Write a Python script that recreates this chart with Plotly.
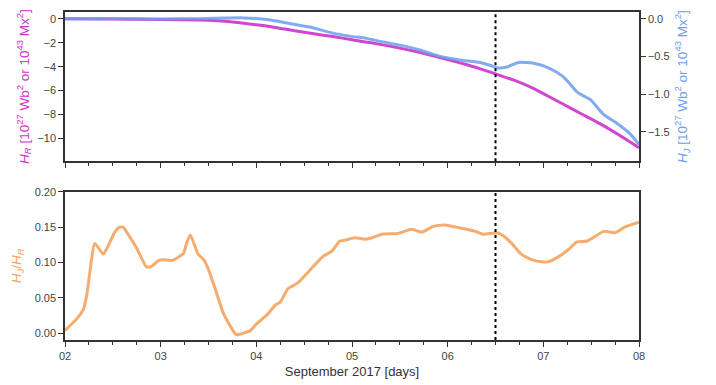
import plotly.graph_objects as go

# ---------------- data ----------------
hr_days = [2.0, 2.5, 3.0, 3.4, 3.6, 3.8, 4.0, 4.2, 4.4, 4.6, 4.8, 5.0, 5.2, 5.5, 5.7, 5.85,
           6.0, 6.2, 6.35, 6.5, 6.7, 6.85, 7.0, 7.2, 7.4, 7.6, 7.8, 8.0]
hr_vals = [0.0, -0.02, -0.05, -0.1, -0.17, -0.3, -0.5, -0.72, -1.0, -1.25, -1.48, -1.75, -2.0,
           -2.45, -2.8, -3.1, -3.4, -3.84, -4.2, -4.6, -5.15, -5.65, -6.25, -7.1, -7.95, -8.8,
           -9.75, -10.77]

hj_days = [2.0, 2.5, 3.0, 3.4, 3.7, 3.86, 4.0, 4.11, 4.21, 4.46, 4.56, 4.8, 4.98, 5.15, 5.3,
           5.5, 5.71, 5.92, 6.13, 6.34, 6.45, 6.51, 6.62, 6.74, 6.9, 7.07, 7.21, 7.36, 7.49,
           7.63, 7.75, 7.91, 8.0]
hj_vals = [0.0, 0.0, -0.002, 0.002, 0.01, 0.012, 0.005, -0.009, -0.03, -0.088, -0.11, -0.19,
           -0.23, -0.26, -0.30, -0.35, -0.415, -0.50, -0.547, -0.58, -0.62, -0.65, -0.64,
           -0.58, -0.59, -0.66, -0.77, -0.98, -1.07, -1.27, -1.37, -1.53, -1.67]

ratio_days = [2.0, 2.12, 2.19, 2.23, 2.27, 2.31, 2.40, 2.45, 2.52, 2.57, 2.61, 2.64, 2.75, 2.85,
              2.90, 2.98, 3.03, 3.12, 3.20, 3.24, 3.27, 3.31, 3.39, 3.45, 3.50, 3.57, 3.65,
              3.72, 3.78, 3.81, 3.88, 3.93, 4.00, 4.11, 4.20, 4.25, 4.33, 4.38, 4.44, 4.60,
              4.70, 4.79, 4.87, 4.94, 5.03, 5.14, 5.21, 5.31, 5.48, 5.62, 5.73, 5.85, 5.97,
              6.09, 6.20, 6.29, 6.37, 6.51, 6.58, 6.67, 6.76, 6.83, 6.93, 7.05, 7.17, 7.26,
              7.35, 7.45, 7.52, 7.63, 7.75, 7.85, 8.0]
ratio_vals = [0.004, 0.020, 0.033, 0.056, 0.097, 0.127, 0.112, 0.123, 0.143, 0.150, 0.150,
              0.144, 0.120, 0.094, 0.094, 0.103, 0.104, 0.103, 0.109, 0.113, 0.127, 0.139,
              0.112, 0.104, 0.090, 0.063, 0.030, 0.012, -0.001, -0.002, 0.001, 0.003, 0.013,
              0.026, 0.040, 0.044, 0.063, 0.067, 0.072, 0.095, 0.109, 0.116, 0.130, 0.132,
              0.135, 0.133, 0.135, 0.140, 0.141, 0.147, 0.143, 0.151, 0.153, 0.150, 0.147,
              0.144, 0.140, 0.142, 0.138, 0.127, 0.113, 0.107, 0.102, 0.101, 0.109, 0.118,
              0.129, 0.130, 0.135, 0.144, 0.142, 0.150, 0.157]

day_ticks = [2, 3, 4, 5, 6, 7, 8]
day_labels = ["02", "03", "04", "05", "06", "07", "08"]
event_day = 6.5

# ---------------- style ----------------
MAG = "#CC33CC"
BLUE = "#6E9EEC"
ORANGE = "#F4A460"
AX = "#333333"
FONT = "Liberation Sans"

fig = go.Figure()
fig.add_trace(go.Scatter(x=hj_days, y=hj_vals, mode="lines", line=dict(color=BLUE, width=3, shape="spline", smoothing=0.6),
                         opacity=0.85, xaxis="x", yaxis="y2", showlegend=False))
fig.add_trace(go.Scatter(x=hr_days, y=hr_vals, mode="lines", line=dict(color=MAG, width=3, shape="spline", smoothing=0.6),
                         opacity=0.9, xaxis="x", yaxis="y", showlegend=False))
fig.add_trace(go.Scatter(x=ratio_days, y=ratio_vals, mode="lines", line=dict(color=ORANGE, width=3, shape="spline", smoothing=0.5),
                         opacity=0.9, xaxis="x2", yaxis="y3", showlegend=False))

xcommon = dict(range=[2, 8], tickvals=day_ticks, showline=True, linecolor=AX, linewidth=1.5, mirror=True,
               ticks="outside", ticklen=5, tickcolor=AX, showgrid=False, zeroline=False,
               minor=dict(dtick=0.25, tick0=2, ticks="outside", ticklen=3, tickcolor=AX, showgrid=False),
               tickfont=dict(size=11, color="#444"))

fig.update_layout(
    width=716, height=385,
    margin=dict(l=65, r=77, t=6, b=45),
    paper_bgcolor="white", plot_bgcolor="white",
    font=dict(family=FONT, size=11, color="#333"),
    xaxis=dict(**xcommon, anchor="y", showticklabels=False, domain=[0, 1]),
    xaxis2=dict(**xcommon, anchor="y3", ticktext=day_labels, domain=[0, 1],
                title=dict(text="September 2017 [days]", font=dict(size=13, color="#333"), standoff=6)),
    yaxis=dict(domain=[0.545, 1], range=[-11.9, 0.57], tickvals=[0, -2, -4, -6, -8, -10],
               showline=True, linecolor=AX, linewidth=1.5, ticks="outside", ticklen=5, tickcolor=AX,
               showgrid=False, zeroline=False, tickfont=dict(size=11, color="#444"),
               title=dict(text="<i>H<sub>R</sub></i> [10<sup>27</sup> Wb<sup>2</sup> or 10<sup>43</sup> Mx<sup>2</sup>]",
                          font=dict(size=13.5, color=MAG), standoff=5)),
    yaxis2=dict(overlaying="y", side="right", anchor="x", range=[-1.89, 0.09],
                tickvals=[0, -0.5, -1.0, -1.5], tickformat=".1f",
                showline=True, linecolor=AX, linewidth=1.5, ticks="outside", ticklen=5, tickcolor=AX,
                showgrid=False, zeroline=False, tickfont=dict(size=11, color="#444"),
                title=dict(text="<i>H<sub>J</sub></i> [10<sup>27</sup> Wb<sup>2</sup> or 10<sup>43</sup> Mx<sup>2</sup>]",
                           font=dict(size=13.5, color=BLUE), standoff=9)),
    yaxis3=dict(domain=[0, 0.452], anchor="x2", range=[-0.0095, 0.2], dtick=0.05, tick0=0, tickformat=".2f",
                showline=True, linecolor=AX, linewidth=1.5, mirror=True, ticks="outside", ticklen=5, tickcolor=AX,
                showgrid=False, zeroline=False, tickfont=dict(size=11, color="#444"),
                title=dict(text="<i>H<sub>J</sub></i>/<i>H<sub>R</sub></i>", font=dict(size=13.5, color=ORANGE), standoff=10)),
)

fig.add_shape(type="line", xref="x", yref="y domain", x0=event_day, x1=event_day, y0=0, y1=1,
              line=dict(color="black", width=2, dash="dot"))
fig.add_shape(type="line", xref="x2", yref="y3 domain", x0=event_day, x1=event_day, y0=0, y1=1,
              line=dict(color="black", width=2, dash="dot"))

fig.write_html("out.html")
